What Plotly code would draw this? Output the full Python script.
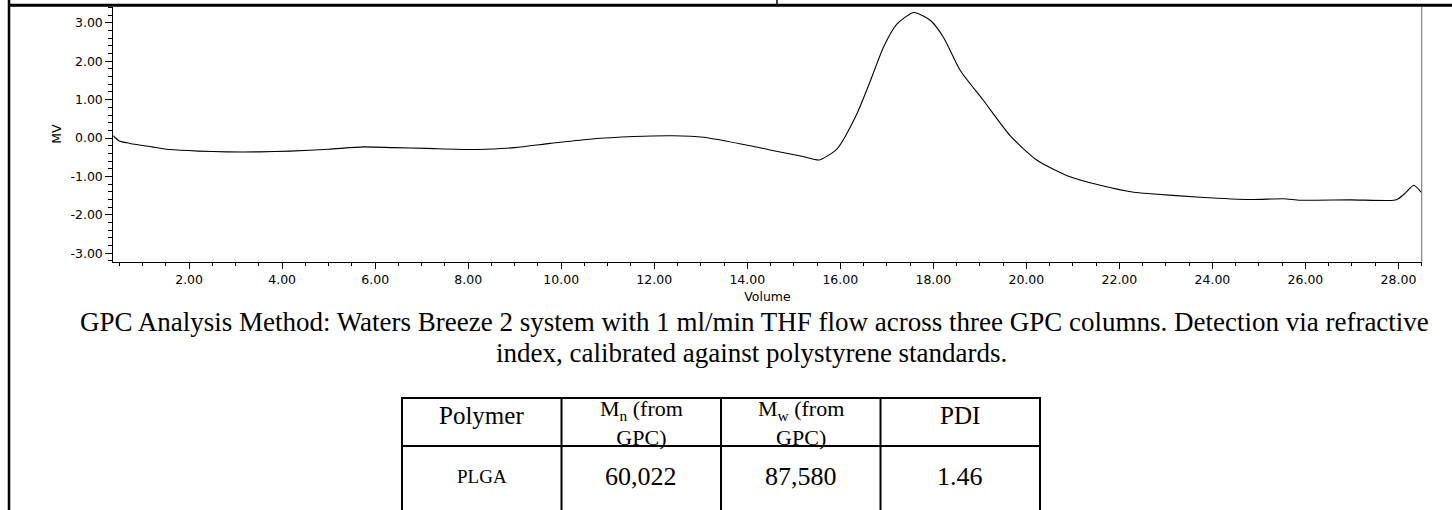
import plotly.graph_objects as go

# ---------------- data ----------------
volume = [0.37, 0.5, 0.73, 1.2, 1.59, 2.2, 2.81, 3.5, 4.17, 5.0, 5.75, 6.4, 7.11, 8.19,
          9.0, 9.76, 10.6, 11.56, 12.4, 13.06, 14.06, 14.49, 15.2, 15.55, 15.93, 16.36,
          16.65, 16.93, 17.22, 17.58, 17.94, 18.22, 18.58, 19.07, 19.66, 20.23, 20.88,
          21.59, 22.31, 22.67, 23.74, 24.82, 25.53, 25.89, 26.97, 27.9, 28.0, 28.15,
          28.33, 28.51]
mv = [0.06, -0.08, -0.14, -0.23, -0.3, -0.34, -0.36, -0.36, -0.34, -0.29, -0.23, -0.25,
      -0.27, -0.3, -0.25, -0.14, -0.03, 0.04, 0.06, 0.02, -0.2, -0.31, -0.48, -0.57,
      -0.28, 0.64, 1.5, 2.37, 2.97, 3.27, 3.06, 2.62, 1.76, 0.99, 0.05, -0.58, -0.98,
      -1.23, -1.41, -1.45, -1.54, -1.6, -1.58, -1.62, -1.61, -1.62, -1.58, -1.43,
      -1.23, -1.44]

x_range = [0.37, 28.5]
y_range = [-3.22, 3.42]
y_ticks = [-3, -2, -1, 0, 1, 2, 3]
x_ticks = [2, 4, 6, 8, 10, 12, 14, 16, 18, 20, 22, 24, 26, 28]
x_title = "Volume"
y_title = "MV"

caption_lines = [
    "GPC Analysis Method: Waters Breeze 2 system with 1 ml/min THF flow across three GPC columns. Detection via refractive",
    "index, calibrated against polystyrene standards.",
]

header_texts = ["Polymer", "M<sub>n</sub> (from<br>GPC)", "M<sub>w</sub> (from<br>GPC)", "PDI"]
polymers = ["PLGA"]
mn_values = [60022]
mw_values = [87580]
pdi_values = [1.46]

W, H = 1452, 510


def px(x):
    return x / W


def py(y):
    return 1 - y / H


AXIS_FONT = dict(family="DejaVu Sans", size=12.5, color="black")
SERIF = "Liberation Serif"

fig = go.Figure()
fig.add_trace(go.Scatter(x=volume, y=mv, mode="lines",
                         line=dict(color="black", width=1.1, shape="spline", smoothing=0.6),
                         showlegend=False, hoverinfo="skip"))

fig.update_xaxes(
    domain=[px(113.3), px(1421.7)], range=x_range,
    tickmode="array", tickvals=x_ticks, ticktext=[f"{v:.2f}" for v in x_ticks],
    ticks="outside", ticklen=6, tickcolor="black", tickwidth=1,
    minor=dict(ticks="outside", ticklen=3, tickmode="linear", dtick=0.5, tick0=0,
               tickcolor="black", tickwidth=1),
    showline=True, linecolor="black", linewidth=1, showgrid=False, zeroline=False,
    tickfont=AXIS_FONT, title=dict(text=x_title, font=AXIS_FONT, standoff=6),
)
fig.update_yaxes(
    domain=[py(261.7), py(6.7)], range=y_range,
    tickmode="array", tickvals=y_ticks, ticktext=[f"{v:.2f}" for v in y_ticks],
    ticks="outside", ticklen=7, tickcolor="black", tickwidth=1,
    minor=dict(ticks="outside", ticklen=4, tickmode="linear", dtick=0.2, tick0=0,
               tickcolor="black", tickwidth=1),
    showline=True, linecolor="black", linewidth=1, showgrid=False, zeroline=False,
    tickfont=AXIS_FONT, title=dict(text=y_title, font=AXIS_FONT, standoff=6),
)

shapes = []
# document frame lines
shapes.append(dict(type="line", xref="paper", yref="paper", x0=px(9), x1=px(9), y0=py(0), y1=py(510),
                   line=dict(color="black", width=2.5)))
shapes.append(dict(type="line", xref="paper", yref="paper", x0=px(8), x1=px(1452), y0=py(5.3), y1=py(5.3),
                   line=dict(color="black", width=3)))
shapes.append(dict(type="line", xref="paper", yref="paper", x0=px(777), x1=px(777), y0=py(0), y1=py(5),
                   line=dict(color="black", width=1.5)))
# right plot border (gray)
shapes.append(dict(type="line", xref="paper", yref="paper", x0=px(1421.7), x1=px(1421.7), y0=py(7), y1=py(261.7),
                   line=dict(color="#808080", width=1.2)))

# table geometry
col_edges = [402, 561.5, 721, 880.5, 1040]
t_top, t_mid, t_bot = 398, 446, 515
for yy in (t_top, t_mid):
    shapes.append(dict(type="line", xref="paper", yref="paper", x0=px(col_edges[0] - 1), x1=px(col_edges[-1] + 1),
                       y0=py(yy), y1=py(yy), line=dict(color="black", width=2)))
for xx in col_edges:
    shapes.append(dict(type="line", xref="paper", yref="paper", x0=px(xx), x1=px(xx),
                       y0=py(t_top), y1=py(t_bot), line=dict(color="black", width=2)))

annotations = []
cap_pos = [(755, 322), (751, 353)]
for txt, (cx, cy) in zip(caption_lines, cap_pos):
    annotations.append(dict(text=txt, xref="paper", yref="paper", x=px(cx), y=py(cy),
                            xanchor="center", yanchor="middle", showarrow=False,
                            font=dict(family=SERIF, size=27, color="black")))

centers = [(a + b) / 2 for a, b in zip(col_edges[:-1], col_edges[1:])]
for c, t in zip(centers, header_texts):
    two = "<br>" in t
    annotations.append(dict(text=t, xref="paper", yref="paper", x=px(c), y=py(423 if two else 415),
                            xanchor="center", yanchor="middle", showarrow=False,
                            font=dict(family=SERIF, size=22 if two else 25, color="black")))

row_texts = [polymers[0], f"{mn_values[0]:,}", f"{mw_values[0]:,}", f"{pdi_values[0]:.2f}"]
row_sizes = [19, 26, 26, 26]
for c, t, s in zip(centers, row_texts, row_sizes):
    annotations.append(dict(text=t, xref="paper", yref="paper", x=px(c), y=py(476),
                            xanchor="center", yanchor="middle", showarrow=False,
                            font=dict(family=SERIF, size=s, color="black")))

fig.update_layout(
    width=W, height=H, margin=dict(l=0, r=0, t=0, b=0),
    paper_bgcolor="white", plot_bgcolor="white",
    shapes=shapes, annotations=annotations, showlegend=False,
)

fig.write_html("out.html", config={"displayModeBar": False},
               post_script="document.body.style.margin='0';")
